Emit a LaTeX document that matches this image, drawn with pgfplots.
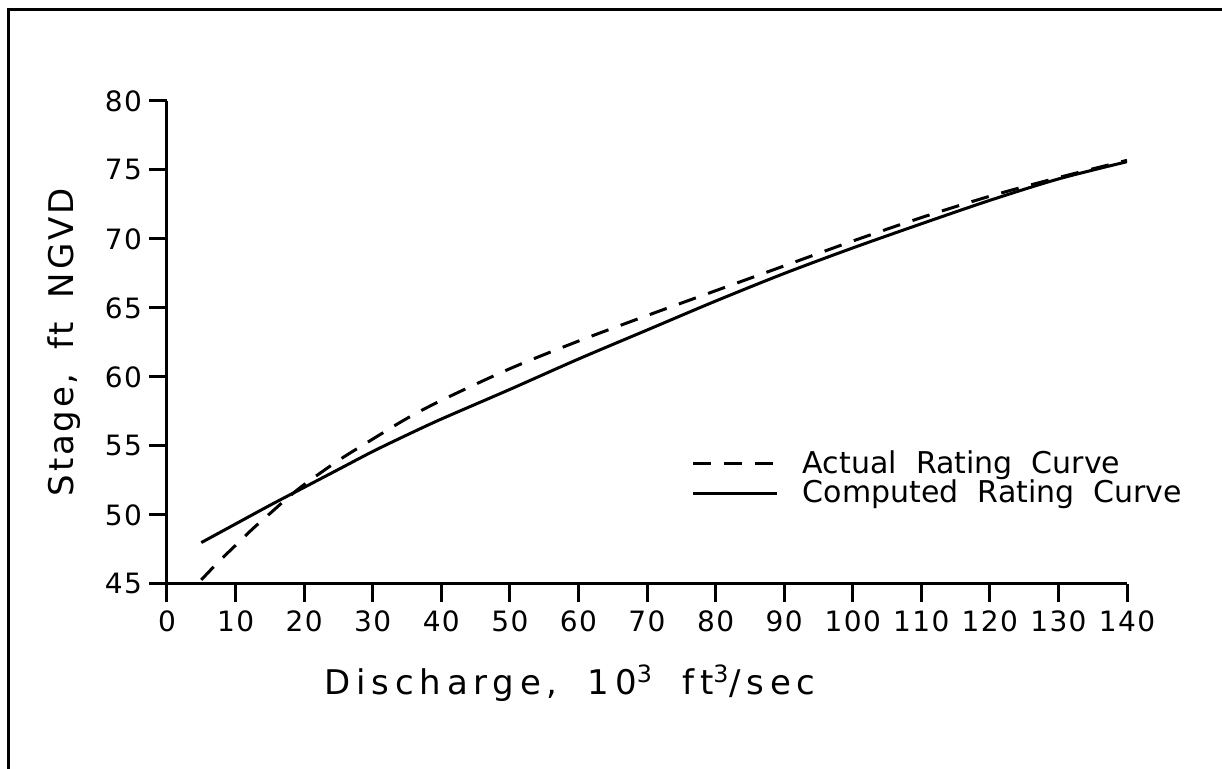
\documentclass[border=0pt]{standalone}
\usepackage{pgfplots}
\pgfplotsset{compat=1.18}
\usepackage{fontspec}
\setmainfont{DejaVu Sans}
\newfontfamily\xlblfont{DejaVu Sans}[LetterSpace=17]
\newfontfamily\ylblfont{DejaVu Sans}[LetterSpace=8]
\newfontfamily\tckfont{DejaVu Sans}[LetterSpace=5]
\begin{document}
\begin{tikzpicture}
\useasboundingbox (0,0) rectangle (611pt,384.5pt);
\draw[line width=1.5pt] (4pt,0pt) -- (4pt,379.5pt) -- (611pt,379.5pt);
\begin{axis}[
  at={(83.5pt,92.5pt)}, anchor=south west,
  scale only axis, width=480pt, height=241.5pt,
  xmin=0, xmax=140, ymin=45, ymax=80,
  axis lines=left, axis line style={-, line width=1.5pt},
  xtick={0,10,...,140}, ytick={45,50,...,80},
  tick align=outside, major tick length=9pt,
  tick style={line width=1.5pt, black},
  /pgf/number format/assume math mode=true,
  ticklabel style={font=\tckfont\fontsize{14}{16}\selectfont},
  xticklabel style={yshift=-1pt},
  xlabel={Discharge,\hspace{15pt}10\textsuperscript{3}\hspace{15pt}ft\textsuperscript{3}/sec},
  ylabel={Stage,\hspace{12pt}ft\hspace{12pt}NGVD},
  xlabel style={font=\xlblfont\fontsize{17}{20}\selectfont, at={(axis description cs:0.42,-0.205)}, anchor=center},
  ylabel style={font=\ylblfont\fontsize{17}{20}\selectfont, at={(axis description cs:-0.1073,0.5)}, anchor=center},
  legend image code/.code={\draw[#1] (0pt,0pt) -- (42pt,0pt); \path (52pt,0pt);},
  legend style={draw=none, fill=none, at={(axis cs:76.5,55.0)}, anchor=north west,
    font=\fontsize{15}{18}\selectfont, inner sep=0pt, row sep=-2pt,
    nodes={inner sep=2pt}},
  legend cell align=left,
]
\addplot[black, line width=1.5pt, dash pattern=on 9pt off 6.5pt, smooth] coordinates {
(5,45.3) (7.5,46.6) (10,47.8) (12.5,49.0) (15,50.1) (17.5,51.2) (20,52.2) (25,53.95)
(30,55.5) (35,57.0) (40,58.3) (50,60.6) (60,62.6) (70,64.45) (80,66.25) (90,68.05)
(100,69.85) (110,71.55) (120,73.1) (130,74.45) (140,75.7)};
\addlegendentry{Actual\ \ Rating\ \ Curve}
\addplot[black, line width=1.5pt, smooth] coordinates {
(5,48.0) (10,49.35) (15,50.7) (20,52.0) (25,53.3) (30,54.6) (35,55.8) (40,56.95)
(50,59.1) (60,61.3) (70,63.4) (80,65.5) (90,67.5) (100,69.35) (110,71.1) (120,72.8)
(130,74.35) (140,75.6)};
\addlegendentry{Computed\ \ Rating\ \ Curve}
\end{axis}
\end{tikzpicture}
\end{document}
